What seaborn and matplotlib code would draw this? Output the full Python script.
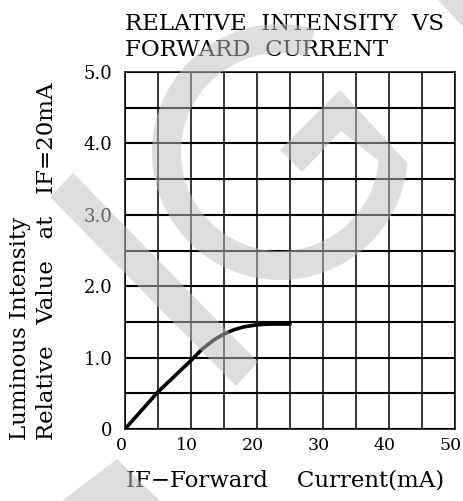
import seaborn as sns
import matplotlib
matplotlib.use('Agg')
import matplotlib.pyplot as plt
from matplotlib.patches import Wedge, Polygon
from matplotlib.transforms import Affine2D, ScaledTranslation
import numpy as np

# curve
current = [0, 5, 10, 11.7, 13.5, 15, 16.5, 18, 20, 22, 25]
intensity = [0, 0.52, 0.96, 1.12, 1.25, 1.33, 1.39, 1.43, 1.46, 1.47, 1.47]

x_ticks = [0, 10, 20, 30, 40, 50]
y_ticks = [0, 1, 2, 3, 4, 5]
y_labels = ['0', '1.0', '2.0', '3.0', '4.0', '5.0']

sns.set_theme(style='white')
plt.rcParams['font.family'] = ['DejaVu Serif']
plt.rcParams['text.color'] = 'black'

W, H = 464, 501
fig = plt.figure(figsize=(W / 100, H / 100), dpi=100)
ax = fig.add_axes([125 / W, 1 - 429 / H, 330 / W, 357 / H])

sns.lineplot(x=current, y=intensity, color='black', linewidth=2.6, ax=ax)

ax.set_xlim(0, 50)
ax.set_ylim(0, 5)
ax.set_xticks(x_ticks)
ax.set_xticks(np.arange(0, 51, 5), minor=True)
ax.set_yticks(y_ticks)
ax.set_yticklabels(y_labels)
ax.set_yticks(np.arange(0, 5.01, 0.5), minor=True)
ax.tick_params(which='both', length=0, labelsize=13, colors='black')
ax.tick_params(axis='x', labelsize=12.5, pad=6)
ax.tick_params(axis='y', pad=9)
shift = ScaledTranslation(-4 / 100, 0, fig.dpi_scale_trans)
for lbl in ax.get_xticklabels():
    lbl.set_transform(lbl.get_transform() + shift)
ax.grid(which='both', axis='x', color='black', linewidth=1.1)
ax.grid(which='both', axis='y', color='black', linewidth=1.5)
for s in ax.spines.values():
    s.set_color('black')
    s.set_linewidth(1.1)

# texts placed in pixel coords (y down)
px = Affine2D().scale(1 / W, -1 / H).translate(0, 1) + fig.transFigure
fig.text(125, 30, 'RELATIVE  INTENSITY  VS', transform=px, fontsize=16.5, ha='left', va='baseline')
fig.text(125, 56, 'FORWARD  CURRENT', transform=px, fontsize=16.5, ha='left', va='baseline')
fig.text(285, 481, 'IF\u2212Forward    Current(mA)', transform=px, fontsize=16.5, ha='center', va='center')
fig.text(20, 440, 'Luminous Intensity', transform=px, fontsize=16.5, rotation=90, ha='center', va='bottom')
fig.text(47, 440, 'Relative   Value   at   IF=20mA', transform=px, fontsize=16.5, rotation=90,
         ha='center', va='bottom')

# light grey watermark laid over everything
wm = dict(facecolor='0.75', edgecolor='none', alpha=0.52, transform=px, zorder=10)
fig.add_artist(Wedge((280, 152), 128, 5, 286, width=29, **wm))
fig.add_artist(Polygon([(407.5, 163.2), (340, 90), (280, 150), (302, 172), (341, 131), (378.6, 160.6)], **wm))
fig.add_artist(Polygon([(50, 197), (73, 173), (258, 362), (236, 386)], **wm))
fig.add_artist(Polygon([(62, 501), (117, 459), (160, 501)], **wm))
fig.add_artist(Polygon([(438, 0), (464, 0), (464, 28)], **wm))

fig.savefig('out.png', dpi=100)
